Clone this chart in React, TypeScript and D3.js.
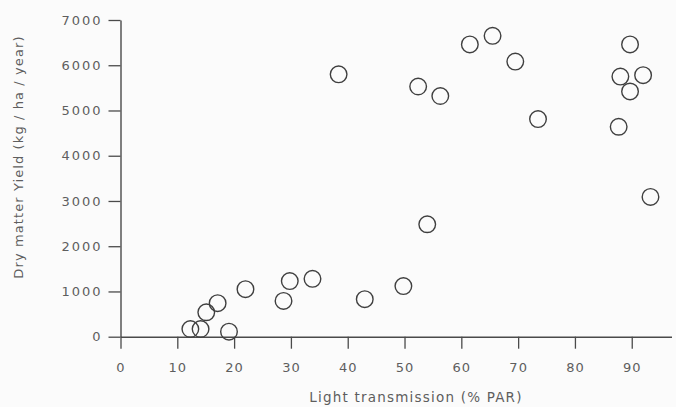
import React, { useRef, useEffect } from 'react';
import * as d3 from 'd3';

// light transmission (% PAR) and dry matter yield (kg/ha/year)
const transmission = [12.3, 14.1, 19.1, 15.1, 17.1, 22.0, 28.7, 29.8, 33.8, 38.4, 43.0, 49.8, 52.4, 54.0, 56.3, 61.5, 65.5, 69.5, 73.5, 87.7, 88.0, 89.7, 89.7, 92.0, 93.3];
const yieldKg = [170, 170, 110, 540, 740, 1050, 790, 1230, 1280, 5800, 830, 1120, 5530, 2485, 5320, 6460, 6650, 6080, 4810, 4640, 5750, 6460, 5420, 5780, 3090];
const xTicks = [0, 10, 20, 30, 40, 50, 60, 70, 80, 90];
const yTicks = [0, 1000, 2000, 3000, 4000, 5000, 6000, 7000];

const W = 676, H = 407;

const App = () => {
  const svgRef = useRef<SVGSVGElement>(null);

  useEffect(() => {
    const svg = d3.select(svgRef.current);
    svg.selectAll('*').remove();

    const x = d3.scaleLinear().domain([0, 97]).range([120.5, 671.5]);
    const y = d3.scaleLinear().domain([0, 7000]).range([336.7, 20]);
    const ink = '#4a4a4a';
    const txt = '#5e5e5e';
    const font = 'DejaVu Sans, sans-serif';

    svg.append('rect').attr('width', W).attr('height', H).attr('fill', '#fbfbfb');

    // x axis
    const xa = svg.append('g').attr('transform', `translate(0,${y(0)})`)
      .call(d3.axisBottom(x).tickValues(xTicks).tickFormat(d3.format('d')).tickSize(12).tickSizeOuter(0).tickPadding(14));
    xa.select('.domain').attr('stroke', ink).attr('stroke-width', 1.6);
    xa.selectAll('.tick line').attr('stroke', ink).attr('stroke-width', 1.3);
    xa.selectAll('.tick text').attr('fill', txt).attr('font-family', font)
      .attr('font-size', 13).attr('letter-spacing', 1);

    // y axis
    const ya = svg.append('g').attr('transform', `translate(${x(0)},0)`)
      .call(d3.axisLeft(y).tickValues(yTicks).tickFormat(d3.format('d')).tickSize(12).tickSizeOuter(0).tickPadding(6));
    ya.select('.domain').attr('stroke', ink).attr('stroke-width', 1.4);
    ya.selectAll('.tick line').attr('stroke', ink).attr('stroke-width', 1.3);
    ya.selectAll('.tick text').attr('fill', txt).attr('font-family', font)
      .attr('font-size', 13).attr('letter-spacing', 2);

    // titles
    svg.append('text')
      .attr('x', 416).attr('y', 402)
      .attr('text-anchor', 'middle')
      .attr('fill', txt).attr('font-family', font).attr('font-size', 13.5)
      .attr('letter-spacing', 1.2)
      .text('Light transmission (% PAR)');

    svg.append('text')
      .attr('transform', `translate(23,157) rotate(-90)`)
      .attr('text-anchor', 'middle')
      .attr('fill', txt).attr('font-family', font).attr('font-size', 13)
      .attr('letter-spacing', 1.1)
      .text('Dry matter Yield (kg / ha / year)');

    // points
    svg.append('g')
      .selectAll('circle')
      .data(d3.zip(transmission, yieldKg))
      .join('circle')
        .attr('cx', d => x(d[0]))
        .attr('cy', d => y(d[1]))
        .attr('r', 8.3)
        .attr('fill', 'none')
        .attr('stroke', '#3f3f3f')
        .attr('stroke-width', 1.4);
  }, []);

  return (
    <svg ref={svgRef} width={W} height={H}
      style={{ position: 'fixed', top: 0, left: 0, display: 'block' }}>
    </svg>
  );
};

export default App;
